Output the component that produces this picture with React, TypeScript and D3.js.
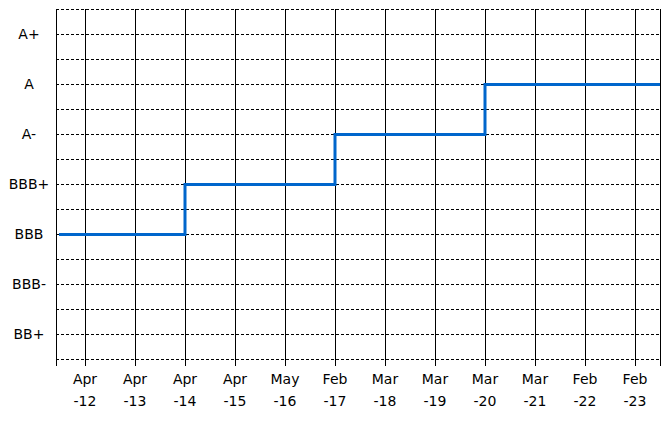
import React, { useEffect, useRef } from "react";
import * as d3 from "d3";

// rating scale, lowest first
const levels = ["BB+", "BBB-", "BBB", "BBB+", "A-", "A", "A+"];
// review dates
const months = ["Apr", "Apr", "Apr", "Apr", "May", "Feb", "Mar", "Mar", "Mar", "Mar", "Feb", "Feb"];
const years = ["-12", "-13", "-14", "-15", "-16", "-17", "-18", "-19", "-20", "-21", "-22", "-23"];
// rating at each date
const ratings = ["BBB", "BBB", "BBB+", "BBB+", "BBB+", "A-", "A-", "A-", "A", "A", "A", "A"];

export default function App() {
  const ref = useRef<SVGSVGElement>(null);

  useEffect(() => {
    const width = 666, height = 421;
    const left = 56, right = 660, top = 9, bottom = 359;
    const font = "DejaVu Sans, Verdana, sans-serif";

    const svg = d3.select(ref.current);
    svg.selectAll("*").remove();

    const x = d3.scaleLinear().domain([-0.58, 11.5]).range([left, right]);
    const y = d3.scaleLinear().domain([-0.5, levels.length - 0.5]).range([bottom, top]);

    // dashed horizontal grid, every half step
    const hs = d3.range(-0.5, levels.length, 0.5);
    svg.append("g")
      .selectAll("line")
      .data(hs)
      .enter()
      .append("line")
      .attr("x1", left)
      .attr("x2", right)
      .attr("y1", (d) => Math.round(y(d)) + 0.5)
      .attr("y2", (d) => Math.round(y(d)) + 0.5)
      .attr("stroke", "#000")
      .attr("stroke-width", 1)
      .attr("stroke-dasharray", "3,2")
      .attr("shape-rendering", "crispEdges");

    // solid verticals (axis edges + category lines), with tick below
    const vs = [left, ...months.map((_, i) => x(i)), right];
    svg.append("g")
      .selectAll("line")
      .data(vs)
      .enter()
      .append("line")
      .attr("x1", (d) => Math.round(d) + 0.5)
      .attr("x2", (d) => Math.round(d) + 0.5)
      .attr("y1", top)
      .attr("y2", bottom + 7)
      .attr("stroke", "#000")
      .attr("stroke-width", 1)
      .attr("shape-rendering", "crispEdges");

    // y labels
    svg.append("g")
      .selectAll("text")
      .data(levels)
      .enter()
      .append("text")
      .attr("x", 29)
      .attr("y", (_, i) => y(i) + 5)
      .attr("text-anchor", "middle")
      .attr("font-family", font)
      .attr("font-size", 14)
      .attr("fill", "#000")
      .text((d) => d);

    // x labels, two lines
    const xl = svg.append("g")
      .selectAll("text")
      .data(months)
      .enter()
      .append("text")
      .attr("text-anchor", "middle")
      .attr("font-family", font)
      .attr("font-size", 14)
      .attr("fill", "#000");
    xl.append("tspan")
      .attr("x", (_, i) => x(i))
      .attr("y", 384)
      .text((d) => d);
    xl.append("tspan")
      .attr("x", (_, i) => x(i))
      .attr("y", 406)
      .text((_, i) => years[i]);

    // step line
    const pts = [
      { i: -0.52, v: ratings[0] },
      ...ratings.map((v, i) => ({ i, v })),
      { i: 11.5, v: ratings[ratings.length - 1] },
    ];
    const line = d3.line<{ i: number; v: string }>()
      .x((d) => x(d.i))
      .y((d) => Math.round(y(levels.indexOf(d.v))) + 0.5)
      .curve(d3.curveStepAfter);
    svg.append("path")
      .datum(pts)
      .attr("d", line)
      .attr("fill", "none")
      .attr("stroke", "#0066cc")
      .attr("stroke-width", 3);

    svg.attr("width", width).attr("height", height);
  }, []);

  return (
    <svg
      ref={ref}
      width={666}
      height={421}
      style={{ position: "absolute", left: 0, top: 0, background: "#fff" }}
    />
  );
}
